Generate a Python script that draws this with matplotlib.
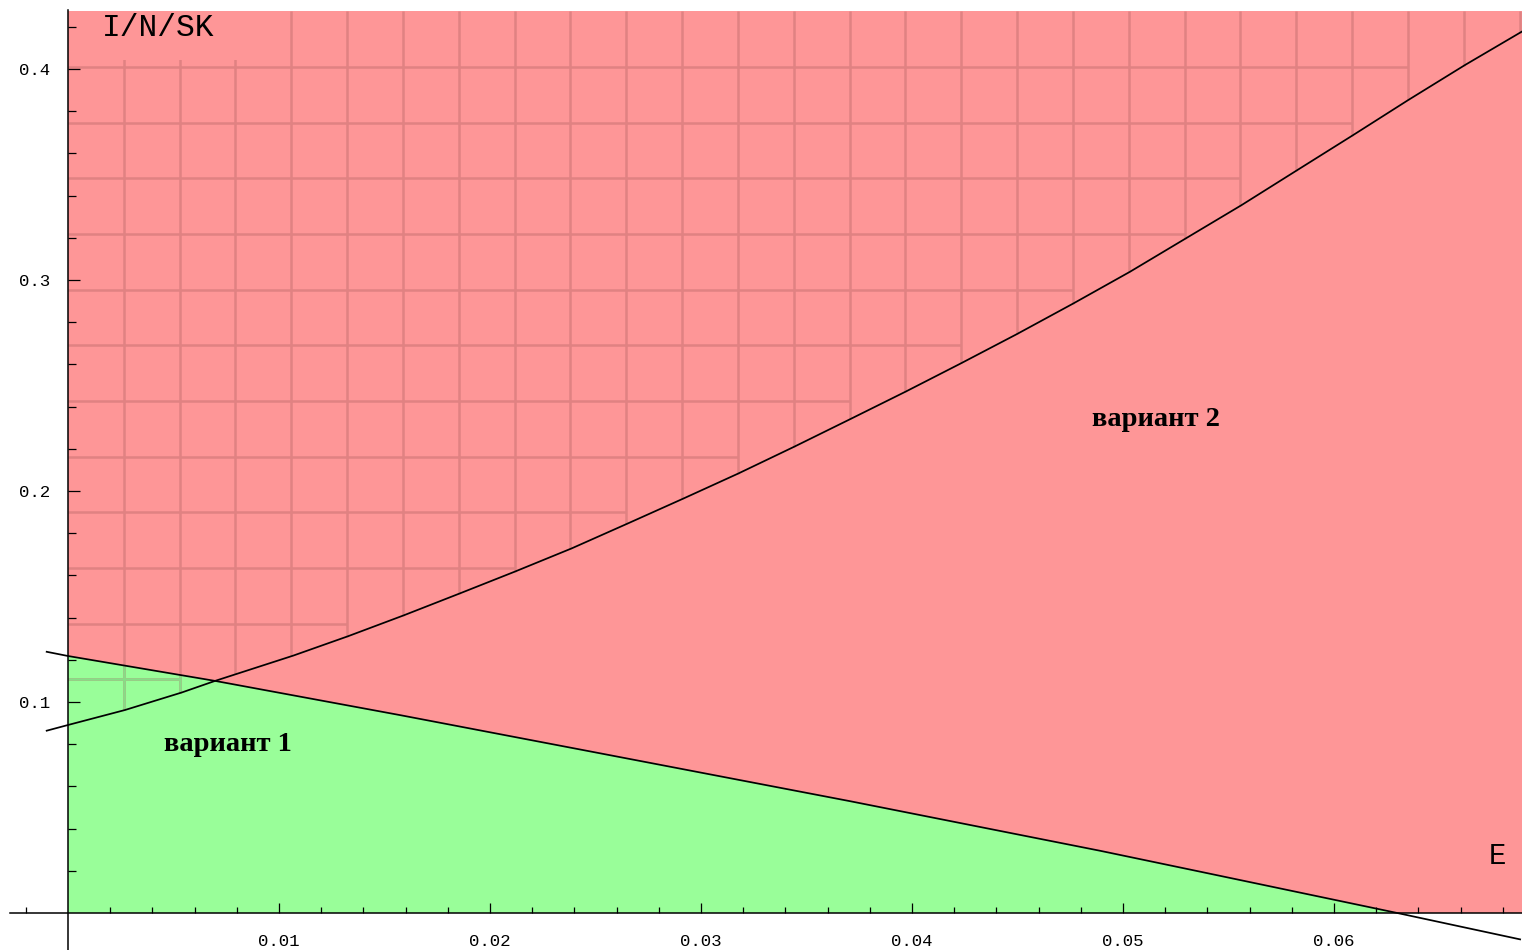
import numpy as np
import matplotlib
matplotlib.use('Agg')
from matplotlib import pyplot as plt
from matplotlib.patches import Rectangle

# values
curve_x = [-0.00101, 0.0, 0.00270, 0.00539, 0.00697, 0.01068, 0.01328, 0.01592,
           0.01858, 0.02118, 0.02387, 0.02655, 0.02916, 0.03177, 0.03442, 0.03706,
           0.03970, 0.04232, 0.04496, 0.04765, 0.05033, 0.05294, 0.05562, 0.05823,
           0.06091, 0.06352, 0.06621, 0.06890]
curve_y = [0.0864, 0.0891, 0.0962, 0.1045, 0.1100, 0.1220, 0.1312, 0.1411,
           0.1515, 0.1618, 0.1728, 0.1847, 0.1964, 0.2083, 0.2210, 0.2340,
           0.2471, 0.2605, 0.2743, 0.2889, 0.3039, 0.3195, 0.3355, 0.3519,
           0.3687, 0.3853, 0.4019, 0.4177]

line_x = [-0.00101, 0.0, 0.00697, 0.01573, 0.02521, 0.03706, 0.04891, 0.05365, 0.06300, 0.06882]
line_y = [0.1238, 0.1218, 0.1100, 0.0938, 0.0757, 0.0530, 0.0295, 0.0196, 0.0, -0.0125]

x_major = [0.01, 0.02, 0.03, 0.04, 0.05, 0.06]
x_labels = ['0.01', '0.02', '0.03', '0.04', '0.05', '0.06']
y_major = [0.1, 0.2, 0.3, 0.4]
y_labels = ['0.1', '0.2', '0.3', '0.4']

# frame of the picture
XMIN, XMAX = -68 / 21100, 1454 / 21100
YMIN, YMAX = -37 / 2110, 913 / 2110
TOP = 0.4275

RED = '#fe9697'
GREEN = '#99fe99'
MESH_RED = '#e08282'
MESH_GREEN = '#86dd86'

fig = plt.figure(figsize=(15.22, 9.5), dpi=100)
ax = fig.add_axes([0, 0, 1, 1])
ax.set_xlim(XMIN, XMAX)
ax.set_ylim(YMIN, YMAX)

# regions
ax.add_patch(Rectangle((0, 0), XMAX, TOP, facecolor=RED, edgecolor='none', zorder=0.5))
lx = np.array(line_x)
ly = np.array(line_y)
m = (lx >= 0) & (ly >= 0)
green = ax.fill_between(lx[m], 0, ly[m], facecolor=GREEN, edgecolor='none', zorder=0.6)

# mesh over the region above the curve
mesh_dx = 0.002646
mesh_y0 = 0.4009
mesh_dy = 0.02637
xs = np.arange(0, 27) * mesh_dx
ys = mesh_y0 - np.arange(0, 13) * mesh_dy
cv = np.interp(xs, curve_x, curve_y)
segs = []
for y in ys:
    for i in range(len(xs) - 1):
        if cv[i] < y and cv[i + 1] < y:
            segs.append(([xs[i], min(xs[i + 1], XMAX)], [y, y]))
for i in range(1, len(xs)):
    if xs[i] < XMAX:
        segs.append(([xs[i], xs[i]], [cv[i], TOP]))
green_path = green.get_paths()[0]
for sx, sy in segs:
    ax.plot(sx, sy, color=MESH_RED, lw=1.8, zorder=0.7, solid_capstyle='butt')
    g, = ax.plot(sx, sy, color=MESH_GREEN, lw=1.8, zorder=0.75, solid_capstyle='butt')
    g.set_clip_path(green_path, ax.transData)

# patch behind the axis label
ax.add_patch(Rectangle((0.0015, 0.4043), 0.0078, TOP - 0.4043, facecolor=RED,
                       edgecolor='none', zorder=0.8))

ax.plot(curve_x, curve_y, color='black', lw=1.25, zorder=2)
ax.plot(line_x, line_y, color='black', lw=1.25, zorder=2)

# axes through the origin
for s in ['top', 'right']:
    ax.spines[s].set_visible(False)
ax.spines['bottom'].set_position(('data', 0))
ax.spines['left'].set_position(('data', 0))
ax.spines['bottom'].set_bounds(-58 / 21100, XMAX)
ax.spines['left'].set_bounds(YMIN, (913 - 10) / 2110)
ax.spines['bottom'].set_linewidth(1.1)
ax.spines['left'].set_linewidth(1.1)

ax.set_xticks(x_major)
ax.set_xticklabels(x_labels)
ax.set_xticks([v for v in np.arange(-0.002, 0.069, 0.002)
               if abs(v * 100 - round(v * 100)) > 1e-6 and abs(v) > 1e-9], minor=True)
ax.set_yticks(y_major)
ax.set_yticklabels(y_labels)
ax.set_yticks([v for v in np.arange(0.02, 0.43, 0.02) if abs(v * 10 - round(v * 10)) > 1e-6],
              minor=True)

ax.tick_params(axis='x', which='major', direction='in', length=7.5, width=0.9, pad=15,
               labelsize=12.5, labelfontfamily='Liberation Mono')
ax.tick_params(axis='x', which='minor', direction='in', length=4.5, width=0.9)
ax.tick_params(axis='y', which='major', direction='in', length=8.5, width=0.9, pad=13,
               labelsize=12.5, labelfontfamily='Liberation Mono')
ax.tick_params(axis='y', which='minor', direction='in', length=5.5, width=0.9)

ax.text(0.004265, 0.4194, 'I/N/SK', family='Liberation Mono', fontsize=22.5,
        ha='center', va='center', zorder=3)
ax.text(0.06773, 0.0270, 'E', family='Liberation Mono', fontsize=21,
        ha='center', va='center', zorder=3)
ax.text(0.00758, 0.0800, 'вариант 1', family='Liberation Serif', fontweight='bold',
        fontsize=20.5, ha='center', va='center', zorder=3)
ax.text(0.05156, 0.2340, 'вариант 2', family='Liberation Serif', fontweight='bold',
        fontsize=20.5, ha='center', va='center', zorder=3)

fig.savefig('out.png', dpi=100)
